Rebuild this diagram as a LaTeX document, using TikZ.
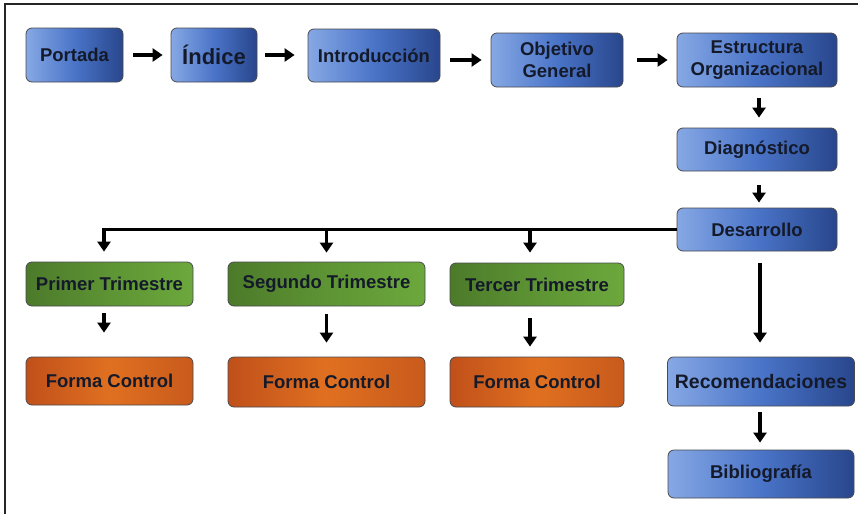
\documentclass[tikz,border=0pt]{standalone}
\usepackage{fontspec}
\setmainfont{Liberation Sans}
\usetikzlibrary{arrows.meta,calc}
\definecolor{txt}{HTML}{141A2A}
\definecolor{bL}{HTML}{86A8E4}
\definecolor{bM}{HTML}{4A74C8}
\definecolor{bD}{HTML}{28468C}
\definecolor{gL}{HTML}{4C7A2A}
\definecolor{gM}{HTML}{5E9434}
\definecolor{gD}{HTML}{6CA83C}
\definecolor{oL}{HTML}{C0501A}
\definecolor{oM}{HTML}{E07020}
\definecolor{oD}{HTML}{C85A1C}
\definecolor{edge}{HTML}{4A4A50}
\tikzset{
  boxbase/.style={draw=edge, line width=0.8pt, rounded corners=6pt, inner sep=2pt,
    align=center, text=txt, font=\bfseries\fontsize{18.5}{22}\selectfont},
  bluebox/.style={boxbase, left color=bL, right color=bD, middle color=bM},
  greenbox/.style={boxbase, left color=gL, right color=gD, middle color=gM},
  orangebox/.style={boxbase, left color=oL, right color=oD, middle color=oM},
  flow/.style={line width=3.8pt, -{Triangle[width=13pt,length=10pt]}},
  plainline/.style={line width=3.8pt},
}
\begin{document}
\begin{tikzpicture}[x=1pt,y=-1pt]
\useasboundingbox (0,0) rectangle (858,514);
\fill[white] (0,0) rectangle (858,514);
\draw[line width=2pt, black!85] (5,514) -- (5,4) -- (858,4);

% top row
\node[bluebox, minimum width=97pt, minimum height=54pt] (por) at (74.5,55) {Portada};
\node[bluebox, minimum width=86pt, minimum height=54pt, font=\bfseries\fontsize{22}{24}\selectfont] (ind) at (214,55) {Índice};
\node[bluebox, minimum width=132pt, minimum height=53pt] (intro) at (374,55.5) {Introducción};
\node[bluebox, minimum width=132pt, minimum height=54pt] (obj) at (557,60) {Objetivo\\General};
\node[bluebox, minimum width=160pt, minimum height=54pt] (est) at (757,60) {Estructura\\Organizacional};
% right column
\node[bluebox, minimum width=160pt, minimum height=43pt] (diag) at (757,149.5) {Diagnóstico};
\node[bluebox, minimum width=160pt, minimum height=43pt] (des) at (757,229.5) {Desarrollo};
\node[bluebox, minimum width=187pt, minimum height=49pt, font=\bfseries\fontsize{19.5}{22}\selectfont] (rec) at (761,381.5) {Recomendaciones};
\node[bluebox, minimum width=186pt, minimum height=48pt] (bib) at (761,474) {Bibliografía};
% trimesters
\node[greenbox, minimum width=167pt, minimum height=44pt] (t1) at (109.5,284) {Primer Trimestre};
\node[greenbox, minimum width=197pt, minimum height=44pt] (t2) at (326.5,284) {Segundo Trimestre};
\node[greenbox, minimum width=174pt, minimum height=43pt] (t3) at (537,284.5) {Tercer Trimestre};
\node[orangebox, minimum width=167pt, minimum height=48pt] (f1) at (109.5,381) {Forma Control};
\node[orangebox, minimum width=197pt, minimum height=50pt] (f2) at (326.5,382) {Forma Control};
\node[orangebox, minimum width=174pt, minimum height=50pt] (f3) at (537,382) {Forma Control};

% top row arrows
\draw[flow, shorten <=10pt, shorten >=8pt] (por.east) -- (ind.west);
\draw[flow, shorten <=8pt, shorten >=13pt] (ind.east) -- (ind.east -| intro.west);
\draw[flow, shorten <=10pt, shorten >=9pt] (intro.east |- obj.west) -- (obj.west);
\draw[flow, shorten <=14pt, shorten >=9pt] (obj.east) -- (est.west);

% right column arrows
\path (est.south) ++(2,0) coordinate (c1);
\path (diag.south) ++(2,0) coordinate (c2);
\path (des.south) ++(3,0) coordinate (c3);
\path (rec.south) ++(-1,0) coordinate (c4);
\draw[flow, shorten <=11pt, shorten >=10pt] (c1) -- (c1 |- diag.north);
\draw[flow, shorten <=14pt, shorten >=5pt] (c2) -- (c2 |- des.north);
\draw[flow, shorten <=12pt, shorten >=14pt] (c3) -- (c3 |- rec.north);
\draw[flow, shorten <=6pt, shorten >=7pt] (c4) -- (c4 |- bib.north);

% branch to trimesters
\coordinate (j1) at (104,229.5);
\coordinate (j2) at (326.5,229.5);
\coordinate (j3) at (530,229.5);
\draw[plainline] (des.west) -- ([xshift=-1.9pt]j1);
\draw[flow, shorten >=10pt] ([yshift=-1.9pt]j1) -- (j1 |- t1.north);
\draw[flow, shorten >=9pt] (j2) -- (j2 |- t2.north);
\draw[flow, shorten >=10pt] (j3) -- (j3 |- t3.north);

% trimester to form
\draw[flow, shorten <=7pt, shorten >=24pt] (j1 |- t1.south) -- (j1 |- f1.north);
\draw[flow, shorten <=8pt, shorten >=14pt] (j2 |- t2.south) -- (j2 |- f2.north);
\draw[flow, shorten <=12pt, shorten >=10pt] (j3 |- t3.south) -- (j3 |- f3.north);
\end{tikzpicture}
\end{document}
